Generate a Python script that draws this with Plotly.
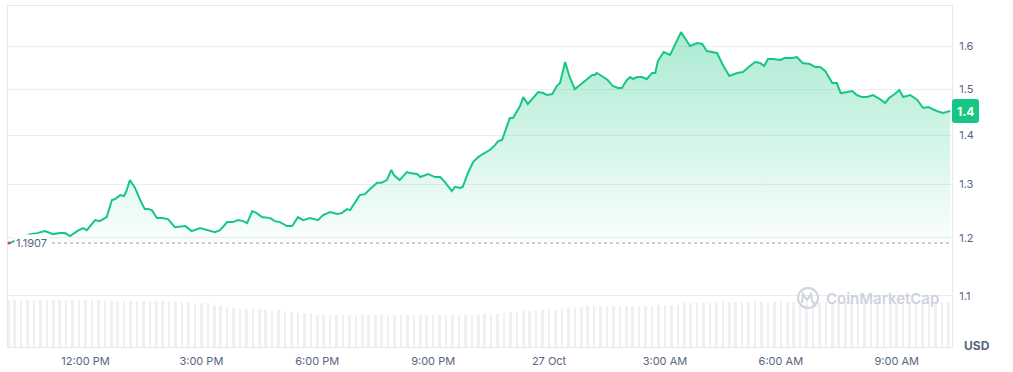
import math
import pandas as pd
import plotly.graph_objects as go

# ---------------- data ----------------
price_times = [
    "26 10:03", "26 10:18", "26 10:34", "26 10:45", "26 10:57", "26 11:10", "26 11:20", "26 11:28",
    "26 11:36", "26 11:47", "26 11:56", "26 12:02", "26 12:15", "26 12:22", "26 12:33", "26 12:41",
    "26 12:46", "26 12:54", "26 13:00", "26 13:04", "26 13:09", "26 13:17", "26 13:25", "26 13:32",
    "26 13:37", "26 13:43", "26 13:51", "26 13:59", "26 14:08", "26 14:19", "26 14:35", "26 14:45",
    "26 14:58", "26 15:10", "26 15:21", "26 15:29", "26 15:40", "26 15:49", "26 15:57", "26 16:05",
    "26 16:11", "26 16:19", "26 16:26", "26 16:34", "26 16:47", "26 16:54", "26 17:02", "26 17:13",
    "26 17:21", "26 17:30", "26 17:38", "26 17:49", "26 18:01", "26 18:09", "26 18:20", "26 18:31",
    "26 18:38", "26 18:46", "26 18:51", "26 19:06", "26 19:14", "26 19:22", "26 19:33", "26 19:40",
    "26 19:48", "26 19:55", "26 19:59", "26 20:08", "26 20:19", "26 20:24", "26 20:35", "26 20:40",
    "26 20:52", "26 21:03", "26 21:11", "26 21:18", "26 21:29", "26 21:34", "26 21:42", "26 21:46",
    "26 21:54", "26 22:02", "26 22:10", "26 22:17", "26 22:28", "26 22:36", "26 22:41", "26 22:47",
    "26 22:55", "26 22:59", "26 23:04", "26 23:10", "26 23:15", "26 23:20", "26 23:27", "26 23:35",
    "26 23:43", "26 23:51", "26 23:57", "27 00:05", "27 00:12", "27 00:17", "27 00:25", "27 00:32",
    "27 00:40", "27 00:48", "27 00:56", "27 01:00", "27 01:07", "27 01:11", "27 01:14", "27 01:22",
    "27 01:31", "27 01:39", "27 01:47", "27 01:53", "27 02:01", "27 02:06", "27 02:10", "27 02:17",
    "27 02:24", "27 02:32", "27 02:40", "27 02:45", "27 02:49", "27 02:58", "27 03:08", "27 03:25",
    "27 03:31", "27 03:39", "27 03:50", "27 03:58", "27 04:05", "27 04:13", "27 04:21", "27 04:30",
    "27 04:40", "27 04:52", "27 05:01", "27 05:12", "27 05:20", "27 05:28", "27 05:34", "27 05:40",
    "27 05:48", "27 05:59", "27 06:06", "27 06:17", "27 06:25", "27 06:34", "27 06:45", "27 06:53",
    "27 07:01", "27 07:09", "27 07:20", "27 07:27", "27 07:33", "27 07:43", "27 07:51", "27 07:58",
    "27 08:06", "27 08:14", "27 08:23", "27 08:34", "27 08:42", "27 08:48", "27 08:57", "27 09:04",
    "27 09:10", "27 09:21", "27 09:32", "27 09:41", "27 09:49", "27 10:02", "27 10:12", "27 10:23",
]
prices = [
    1.1907, 1.2000, 1.2068, 1.2086, 1.2122, 1.2068, 1.2086, 1.2086,
    1.2032, 1.2122, 1.2177, 1.2140, 1.2324, 1.2305, 1.2380, 1.2700,
    1.2719, 1.2795, 1.2776, 1.2890, 1.3087, 1.2934, 1.2700, 1.2529,
    1.2529, 1.2510, 1.2361, 1.2361, 1.2343, 1.2195, 1.2214, 1.2122,
    1.2177, 1.2140, 1.2104, 1.2140, 1.2287, 1.2287, 1.2324, 1.2305,
    1.2269, 1.2491, 1.2454, 1.2380, 1.2361, 1.2305, 1.2287, 1.2214,
    1.2214, 1.2380, 1.2324, 1.2361, 1.2324, 1.2417, 1.2473, 1.2436,
    1.2454, 1.2529, 1.2510, 1.2795, 1.2814, 1.2912, 1.3035, 1.3035,
    1.3087, 1.3285, 1.3186, 1.3087, 1.3245, 1.3226, 1.3206, 1.3146,
    1.3206, 1.3146, 1.3146, 1.3052, 1.2871, 1.2956, 1.2934, 1.2956,
    1.3226, 1.3445, 1.3546, 1.3608, 1.3690, 1.3790, 1.3875, 1.3896,
    1.4232, 1.4363, 1.4363, 1.4493, 1.4623, 1.4821, 1.4667, 1.4799,
    1.4933, 1.4911, 1.4866, 1.4888, 1.5068, 1.5136, 1.5620, 1.5274,
    1.5000, 1.5090, 1.5182, 1.5228, 1.5320, 1.5320, 1.5366, 1.5297,
    1.5205, 1.5068, 1.5023, 1.5023, 1.5205, 1.5274, 1.5228, 1.5274,
    1.5274, 1.5228, 1.5366, 1.5366, 1.5643, 1.5857, 1.5786, 1.6338,
    1.6193, 1.6000, 1.6072, 1.6048, 1.5880, 1.5857, 1.5833, 1.5550,
    1.5297, 1.5366, 1.5389, 1.5527, 1.5620, 1.5597, 1.5527, 1.5690,
    1.5690, 1.5667, 1.5714, 1.5714, 1.5739, 1.5597, 1.5573, 1.5505,
    1.5505, 1.5413, 1.5136, 1.5136, 1.4911, 1.4933, 1.4955, 1.4866,
    1.4821, 1.4821, 1.4866, 1.4777, 1.4689, 1.4799, 1.4888, 1.4978,
    1.4821, 1.4866, 1.4755, 1.4580, 1.4601, 1.4514, 1.4471, 1.4514,
]
# 10-minute volume bars (relative units, millions), starting 26 Oct 10:00
volumes = (
    [4.7] * 16 + [4.6] * 10 + [4.5] * 3 + [4.4] * 3 + [4.2, 4.1, 4.0, 3.9] + [3.8] * 4
    + [3.7] * 3 + [3.6, 3.5, 3.4, 3.4, 3.3] + [3.2] * 26 + [3.3] * 3
    + [3.4, 3.5, 3.5, 3.6, 3.6] + [3.7] * 4 + [3.8, 3.9, 4.0, 4.0] + [4.1] * 11
    + [4.2] * 4 + [4.4] * 6 + [4.5] * 36
)
baseline_price = 1.1907
current_label = "1.4"
y_tick_vals = [1.1, 1.2, 1.3, 1.4, 1.5, 1.6]
x_tick_vals = ["2023-10-26 12:00", "2023-10-26 15:00", "2023-10-26 18:00", "2023-10-26 21:00",
               "2023-10-27 00:00", "2023-10-27 03:00", "2023-10-27 06:00", "2023-10-27 09:00"]
x_tick_text = ["12:00 PM", "3:00 PM", "6:00 PM", "9:00 PM", "27 Oct", "3:00 AM", "6:00 AM", "9:00 AM"]

# ---------------- build ----------------
times = pd.to_datetime(["2023-10-" + s for s in price_times])
vol_times = pd.date_range("2023-10-26 10:00", periods=len(volumes), freq="10min")

GREEN = "#16c784"
GREY = "#58667e"
FONT = "Inter"
Y_MIN, Y_MAX = 1.0189, 1.6989
LO, HI = math.log10(Y_MIN), math.log10(Y_MAX)


def yfrac(v):
    return (math.log10(v) - LO) / (HI - LO)


fig = go.Figure()

fig.add_trace(go.Bar(
    x=vol_times, y=volumes, yaxis="y2",
    marker=dict(color="#eef0f3", line=dict(width=0)),
    width=4 * 60 * 1000, hoverinfo="skip",
))

fig.add_trace(go.Scatter(
    x=times, y=[baseline_price] * len(times), mode="lines",
    line=dict(width=0, color="rgba(0,0,0,0)"), hoverinfo="skip",
))
fig.add_trace(go.Scatter(
    x=times, y=prices, mode="lines",
    line=dict(color=GREEN, width=2, shape="linear"),
    fill="tonexty",
    fillgradient=dict(type="vertical",
                      colorscale=[[0, "rgba(22,199,132,0.02)"], [1, "rgba(22,199,132,0.36)"]]),
    hoverinfo="skip",
))

by = yfrac(baseline_price)
ly = yfrac(prices[-1])

shapes = [
    # dotted baseline
    dict(type="line", xref="paper", yref="paper", x0=44 / 944, x1=1, y0=by, y1=by,
         line=dict(color="#9aa1ad", width=1, dash="dot"), layer="above"),
    # red marker dot
    dict(type="circle", xref="paper", yref="paper", xsizemode="pixel", ysizemode="pixel",
         xanchor=1 / 944, yanchor=by, x0=-1.5, x1=1.5, y0=-1.5, y1=1.5,
         fillcolor="#ea3943", line=dict(width=0)),
    # current price label box
    dict(type="path", xref="paper", yref="paper", xsizemode="pixel", ysizemode="pixel",
         xanchor=1, yanchor=ly,
         path="M 3,-12 L 24,-12 Q 27,-12 27,-9 L 27,9 Q 27,12 24,12 L 3,12 Q 0,12 0,9 L 0,-9 Q 0,-12 3,-12 Z",
         fillcolor=GREEN, line=dict(width=0), layer="above"),
    # watermark logo
    dict(type="circle", xref="paper", yref="paper", xsizemode="pixel", ysizemode="pixel",
         xanchor=800 / 944, yanchor=49 / 341, x0=-10, x1=10, y0=-10, y1=10,
         line=dict(color="#cdd3dd", width=2), layer="above"),
    dict(type="path", xref="paper", yref="paper", xsizemode="pixel", ysizemode="pixel",
         xanchor=800 / 944, yanchor=49 / 341,
         path="M -6,-5 L -5,4 L -1,-2 L 3,4 L 4,-3 Q 5,-6 7,-4",
         line=dict(color="#cdd3dd", width=2), layer="above"),
]

annotations = [
    dict(text="1.1907", xref="paper", yref="paper", x=6 / 944, y=by, xanchor="left",
         yanchor="middle", showarrow=False, font=dict(family=FONT, size=11, color=GREY),
         bgcolor="white"),
    dict(text="<b>" + current_label + "</b>", xref="paper", yref="paper", x=1, y=ly,
         xshift=13.5, xanchor="center", yanchor="middle", showarrow=False,
         font=dict(family=FONT, size=12, color="white")),
    dict(text="<b>USD</b>", xref="paper", yref="paper", x=969 / 944, y=2 / 341,
         xanchor="center", yanchor="middle", showarrow=False,
         font=dict(family=FONT, size=12, color=GREY)),
    dict(text="CoinMarketCap", xref="paper", yref="paper", x=816 / 944, y=49 / 341,
         xanchor="left", yanchor="middle", showarrow=False,
         font=dict(family=FONT, size=15, color="#cdd3dd", weight=600)),
]

fig.update_layout(
    width=1013, height=372,
    margin=dict(l=8, r=61, t=6, b=25, autoexpand=False),
    paper_bgcolor="white", plot_bgcolor="white",
    showlegend=False, hovermode=False, bargap=0,
    shapes=shapes, annotations=annotations,
    xaxis=dict(
        type="date", range=["2023-10-26 09:59:38", "2023-10-27 10:25:52"],
        tickvals=x_tick_vals, ticktext=x_tick_text,
        showgrid=False, zeroline=False, ticks="",
        showline=True, mirror=True, linecolor="#e8e8e8", linewidth=1,
        tickfont=dict(family=FONT, size=11, color=GREY),
        ticklabelstandoff=4,
    ),
    yaxis=dict(
        type="log", range=[LO, HI], side="right",
        tickvals=y_tick_vals, ticktext=[f"{v:.1f}" for v in y_tick_vals],
        showgrid=True, gridcolor="#ededed", gridwidth=1, zeroline=False, ticks="",
        showline=True, mirror=True, linecolor="#e8e8e8", linewidth=1,
        tickfont=dict(family=FONT, size=11, color=GREY),
        ticklabelstandoff=4,
    ),
    yaxis2=dict(overlaying="y", range=[0, 34.1], visible=False, showgrid=False),
)

fig.write_html("out.html")
